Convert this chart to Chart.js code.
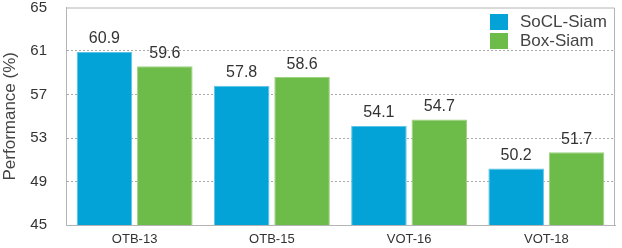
<!DOCTYPE html>
<html>
<head>
<meta charset="utf-8">
<script src="https://cdn.jsdelivr.net/npm/chart.js@4/dist/chart.umd.min.js"></script>
<style>
  html, body { margin: 0; padding: 0; background: #fff; }
  #wrap { width: 622px; height: 248px; }
</style>
</head>
<body>
<div id="wrap"><canvas id="mychart" width="622" height="248"></canvas></div>
<script>
const categories = ['OTB-13', 'OTB-15', 'VOT-16', 'VOT-18'];
const soclSiam = [60.9, 57.8, 54.1, 50.2];
const boxSiam = [59.6, 58.6, 54.7, 51.7];
const yTicks = [45, 49, 53, 57, 61, 65];

const FONT = "'Liberation Sans', Arial, Helvetica, sans-serif";

// box round the plot + value labels + legend inside the plot
const extras = {
  id: 'extras',
  beforeDatasetsDraw(chart) {
    const a = chart.chartArea;
    const ctx = chart.ctx;
    ctx.save();
    ctx.strokeStyle = '#b4b4b4';
    ctx.lineWidth = 1;
    ctx.beginPath();
    ctx.moveTo(a.left + 0.5, a.bottom);
    ctx.lineTo(a.left + 0.5, a.top + 0.5);
    ctx.lineTo(a.right - 0.5, a.top + 0.5);
    ctx.lineTo(a.right - 0.5, a.bottom);
    ctx.stroke();
    ctx.restore();
  },
  afterDraw(chart) {
    const ctx = chart.ctx;
    ctx.save();
    ctx.font = '16px ' + FONT;
    ctx.fillStyle = '#333';
    ctx.textAlign = 'center';
    ctx.textBaseline = 'bottom';
    chart.data.datasets.forEach((ds, i) => {
      chart.getDatasetMeta(i).data.forEach((bar, j) => {
        ctx.fillText(ds.data[j].toFixed(1), bar.x, bar.y - 5);
      });
    });

    // legend
    ctx.font = '17px ' + FONT;
    ctx.textAlign = 'left';
    ctx.textBaseline = 'middle';
    chart.data.datasets.forEach((ds, i) => {
      const y = 14 + i * 19;
      ctx.fillStyle = ds.backgroundColor;
      ctx.fillRect(490, y, 18, 16);
      ctx.fillStyle = '#444';
      ctx.fillText(ds.label, 520, y + 8);
    });
    ctx.restore();
  }
};

const ctx = document.getElementById('mychart').getContext('2d');
const myChart = new Chart(ctx, {
  type: 'bar',
  data: {
    labels: categories,
    datasets: [
      {
        label: 'SoCL-Siam',
        data: soclSiam,
        backgroundColor: '#03a3d8',
        borderColor: '#5cc3e6',
        borderWidth: 1,
        categoryPercentage: 0.88,
        barPercentage: 0.92
      },
      {
        label: 'Box-Siam',
        data: boxSiam,
        backgroundColor: '#6dbb48',
        borderColor: '#9dd27f',
        borderWidth: 1,
        categoryPercentage: 0.88,
        barPercentage: 0.92
      }
    ]
  },
  options: {
    responsive: false,
    animation: false,
    layout: { padding: { top: 7, right: 7, left: 0, bottom: 0 } },
    plugins: {
      legend: { display: false },
      tooltip: { enabled: false }
    },
    scales: {
      x: {
        grid: { display: false, drawTicks: false },
        border: { color: '#b4b4b4' },
        ticks: { color: '#333', font: { family: FONT, size: 13 }, padding: 7 },
        afterFit(scale) { scale.height = 23; }
      },
      y: {
        min: yTicks[0],
        max: yTicks[yTicks.length - 1],
        afterBuildTicks(scale) { scale.ticks = yTicks.map(v => ({ value: v })); },
        grid: {
          color: (c) => (c.tick.value === 45 || c.tick.value === 65) ? 'rgba(0,0,0,0)' : '#aaa',
          drawTicks: true,
          tickLength: 19,
          tickColor: 'rgba(0,0,0,0)'
        },
        border: { color: '#b4b4b4', dash: [2, 2] },
        ticks: { color: '#333', font: { family: FONT, size: 15, lineHeight: 1 }, padding: 0 },
        title: {
          display: true,
          text: 'Performance (%)',
          color: '#444',
          font: { family: FONT, size: 17 },
          padding: 0
        },
        afterFit(scale) { scale.width = 66; }
      }
    }
  },
  plugins: [extras]
});
</script>
</body>
</html>
